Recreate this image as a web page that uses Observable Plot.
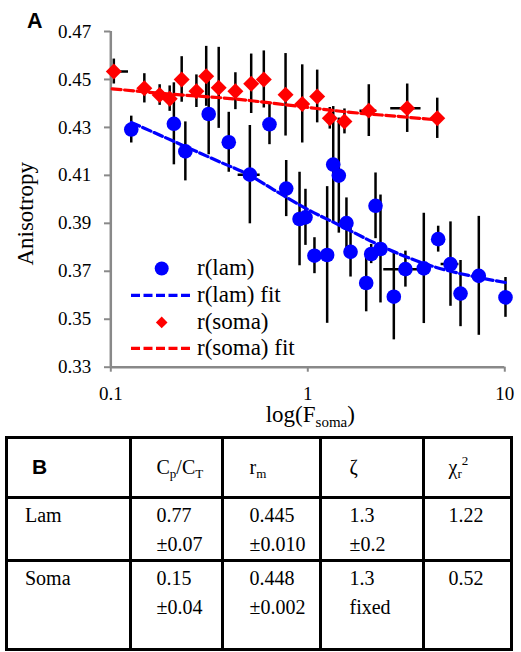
<!DOCTYPE html>
<html><head><meta charset="utf-8">
<script src="https://cdn.jsdelivr.net/npm/d3@7"></script>
<script src="https://cdn.jsdelivr.net/npm/@observablehq/plot@0.6"></script>
<style>
body{margin:0;background:#fff;}
#wrap{position:relative;width:521px;height:652px;overflow:hidden;font-family:"Liberation Serif","Times New Roman",Times,serif;background:#fff;}
#chart{position:absolute;left:0;top:0;}
#chart text{font-family:"Liberation Serif","Times New Roman",Times,serif;}
#panelA{position:absolute;left:27px;top:11px;font:bold 21.5px/1 "Liberation Sans",Arial,sans-serif;}
#legend{position:absolute;left:131px;top:254.8px;font-size:23px;color:#000;font-family:"Liberation Serif","Times New Roman",Times,serif;}
.lrow{display:flex;align-items:center;height:26.9px;}
.lrow svg{width:62px;height:26.9px;flex:none;}
.lrow span{margin-left:4px;line-height:26.9px;white-space:nowrap;}
#tbl{position:absolute;left:5px;top:436px;border-collapse:collapse;table-layout:fixed;width:507.5px;color:#000;}
#tbl td{border:3px solid #000;padding:2px 0 0 0;vertical-align:top;line-height:29px;font-size:20px;font-family:"Liberation Serif","Times New Roman",Times,serif;}
#tbl tr.h td{vertical-align:middle;padding-top:0;}
#tbl sub,#tbl sup{font-size:13px;line-height:0;}
#tbl sub{vertical-align:-4px;}
#tbl sup{vertical-align:9px;}
#tbl .bold{font:bold 21px "Liberation Sans",Arial,sans-serif;}
</style>
</head><body>
<div id="wrap">
  <div id="chart"></div>
  <div id="panelA">A</div>
  <div id="legend"></div>
  <table id="tbl"></table>
</div>
<script>
// ---- data ----
const lamX   = [0.127, 0.209, 0.239, 0.314, 0.397, 0.508, 0.639, 0.777, 0.908, 0.973, 1.081, 1.254, 1.346, 1.437, 1.571, 1.648, 1.979, 2.098, 2.207, 2.339, 2.733, 3.13, 3.88, 4.59, 5.30, 5.96, 7.38, 10.08];
const lamY   = [0.4291, 0.4315, 0.4200, 0.4356, 0.4238, 0.4103, 0.4313, 0.4045, 0.3918, 0.3925, 0.3765, 0.3768, 0.4145, 0.4099, 0.3901, 0.3781, 0.3651, 0.3772, 0.3973, 0.3793, 0.3594, 0.3709, 0.3712, 0.3834, 0.3730, 0.3607, 0.3681, 0.3591];
const lamErr = [0.0056, 0.0171, 0.0123, 0.0170, 0.0125, 0.0205, 0.0085, 0.0117, 0.0195, 0.0117, 0.0075, 0.0285, 0.0242, 0.0240, 0.0105, 0.0105, 0.0120, 0.0040, 0.0137, 0.0225, 0.0180, 0.0075, 0.0230, 0.0054, 0.0176, 0.0138, 0.0248, 0.0083];
const lamXErr= [0, 0, 0, 0, 0, 0.065, 0, 0, 0, 0, 0, 0, 0, 0, 0, 0, 0, 0, 0, 0, 0, 0.7, 0, 0, 0.55, 0, 0, 0];

const somaX   = [0.1036, 0.148, 0.177, 0.199, 0.229, 0.272, 0.305, 0.353, 0.429, 0.516, 0.598, 0.771, 0.937, 1.116, 1.293, 1.535, 2.04, 3.196, 4.54];
const somaY   = [0.4533, 0.4463, 0.4435, 0.4420, 0.4500, 0.4451, 0.4513, 0.4465, 0.4451, 0.4482, 0.4500, 0.4436, 0.4398, 0.4429, 0.4338, 0.4325, 0.4370, 0.4380, 0.4338];
const somaErr = [0.0052, 0.0061, 0.0043, 0.0053, 0.0095, 0.0068, 0.0125, 0.0169, 0.0077, 0.0124, 0.0119, 0.0172, 0.0163, 0.0110, 0.0045, 0.0052, 0.0108, 0.0101, 0.0084];
const somaXErr= [0.0194, 0, 0, 0, 0, 0, 0, 0, 0, 0, 0, 0, 0, 0, 0, 0, 0.2, 0.56, 0];

const lamFitX  = [0.127, 0.244, 0.36, 0.492, 0.672, 0.993, 1.466, 2.163, 3.45, 4.54, 6.70, 10.08];
const lamFitY  = [0.4321, 0.4217, 0.4155, 0.4106, 0.4040, 0.3959, 0.3890, 0.3820, 0.3748, 0.3715, 0.3681, 0.3653];
const somaFitX = [0.1016, 0.193, 0.421, 0.918, 1.648, 2.955, 4.54];
const somaFitY = [0.4461, 0.4440, 0.4419, 0.4387, 0.4363, 0.4345, 0.4331];

const yTicks = [0.33, 0.35, 0.37, 0.39, 0.41, 0.43, 0.45, 0.47];
const xTicks = [0.1, 1, 10];
const xTickLabels = ["0.1", "1", "10"];

const legendLabels = ["r(lam)", "r(lam) fit", "r(soma)", "r(soma) fit"];
const tableHeader = ["B", "C<sub>p</sub>/C<sub>T</sub>", "r<sub>m</sub>", "ζ", "χ<sub>r</sub><sup>2</sup>"];
const tableRows = [
  ["Lam",  "0.77<br>±0.07", "0.445<br>±0.010", "1.3<br>±0.2", "1.22"],
  ["Soma", "0.15<br>±0.04", "0.448<br>±0.002", "1.3<br>fixed", "0.52"]
];

// ---- build rows ----
const lam  = lamX.map((x, i) => ({x, y: lamY[i], e: lamErr[i], xe: lamXErr[i]}));
const soma = somaX.map((x, i) => ({x, y: somaY[i], e: somaErr[i], xe: somaXErr[i]}));
const lamFit  = lamFitX.map((x, i) => ({x, y: lamFitY[i]}));
const somaFit = somaFitX.map((x, i) => ({x, y: somaFitY[i]}));

const BLUE = "#0000ff", RED = "#ff0000", AXIS = "#898989";
const dash = "9,3.5";
const serif = "Liberation Serif";

const errV = (data) => Plot.ruleX(data, {x: "x", y1: d => d.y - d.e, y2: d => d.y + d.e, stroke: "#000", strokeWidth: 2.5});
const errH = (data) => Plot.ruleY(data.filter(d => d.xe > 0), {y: "y", x1: d => d.x - d.xe, x2: d => d.x + d.xe, stroke: "#000", strokeWidth: 2.5, clip: true});

const chart = Plot.plot({
  width: 521,
  height: 432,
  marginLeft: 110.3,
  marginRight: 16.7,
  marginTop: 31,
  marginBottom: 65.3,
  style: {fontFamily: serif, fontSize: "19px", background: "transparent", overflow: "visible", color: "#000"},
  x: {type: "log", domain: [0.1, 10]},
  y: {domain: [0.33, 0.47]},
  marks: [
    Plot.axisY({ticks: yTicks, tickFormat: d3.format(".2f"), tickSize: 6.3, tickPadding: 13.3, stroke: AXIS, strokeWidth: 2, fill: "#000", label: null, fontSize: 19, fontFamily: serif}),
    Plot.axisX({ticks: xTicks, tickFormat: (d) => xTickLabels[xTicks.indexOf(d)], tickSize: 5, tickPadding: 14, stroke: AXIS, strokeWidth: 2, fill: "#000", label: null, fontSize: 19, fontFamily: serif}),
    Plot.ruleX([0.1], {stroke: AXIS, strokeWidth: 2.5}),
    Plot.ruleY([0.33], {stroke: AXIS, strokeWidth: 2.5}),
    errV(lam), errH(lam),
    Plot.dot(lam, {x: "x", y: "y", r: 7.3, fill: BLUE, stroke: "none"}),
    Plot.line(lamFit, {x: "x", y: "y", stroke: BLUE, strokeWidth: 3.2, strokeDasharray: dash, curve: "monotone-x"}),
    errV(soma), errH(soma),
    Plot.dot(soma, {x: "x", y: "y", symbol: "diamond2", r: 7.2, fill: RED, stroke: "none"}),
    Plot.line(somaFit, {x: "x", y: "y", stroke: RED, strokeWidth: 3.2, strokeDasharray: dash, curve: "monotone-x"})
  ]
});
document.getElementById("chart").appendChild(chart);

// axis titles (with subscript) placed from the plot's scales
const xs = chart.scale("x"), ys = chart.scale("y");
const xMid = (xs.range[0] + xs.range[1]) / 2 + 3;
const yBottom = ys.range[0];
const svg = d3.select(chart);
const xt = svg.append("text").attr("x", xMid).attr("y", yBottom + 55)
  .attr("text-anchor", "middle").attr("font-family", serif).attr("font-size", 23).attr("fill", "#000");
xt.append("tspan").text("log(F");
xt.append("tspan").attr("font-size", 15).attr("dy", 5).text("soma");
xt.append("tspan").attr("dy", -5).text(")");
const yMid = (ys.range[0] + ys.range[1]) / 2 + 15;
svg.append("text").attr("transform", `translate(33.3,${yMid}) rotate(-90)`)
  .attr("text-anchor", "middle").attr("font-family", serif).attr("font-size", 23).attr("fill", "#000")
  .text("Anisotropy");

// legend
const legendSymbols = [
  s => s.append("circle").attr("cx", 30.7).attr("cy", 13.45).attr("r", 7).attr("fill", BLUE),
  s => s.append("line").attr("x1", 0).attr("x2", 62).attr("y1", 13.45).attr("y2", 13.45).attr("stroke", BLUE).attr("stroke-width", 3.2).attr("stroke-dasharray", dash),
  s => s.append("path").attr("d", "M30.7,7.6L36.5,13.45L30.7,19.3L24.9,13.45Z").attr("fill", RED),
  s => s.append("line").attr("x1", 0).attr("x2", 62).attr("y1", 13.45).attr("y2", 13.45).attr("stroke", RED).attr("stroke-width", 3.2).attr("stroke-dasharray", dash)
];
const leg = d3.select("#legend");
legendLabels.forEach((lab, i) => {
  const row = leg.append("div").attr("class", "lrow");
  const s = row.append("svg").attr("viewBox", "0 0 62 26.9");
  legendSymbols[i](s);
  row.append("span").text(lab);
});

// table
const colW = [123.5, 92, 98, 103, 88];
const padL = [17, 25, 26, 28, 24];
const rowH = [59.5, 63, 89.5];
const tbl = d3.select("#tbl");
const cg = tbl.append("colgroup");
colW.forEach(w => cg.append("col").style("width", w + "px"));
const hr = tbl.append("tr").attr("class", "h").style("height", rowH[0] + "px");
tableHeader.forEach((h, j) => hr.append("td").style("padding-left", (j === 0 ? 24 : padL[j]) + "px")
  .html(j === 0 ? `<span class="bold">${h}</span>` : h));
tableRows.forEach((r, i) => {
  const tr = tbl.append("tr").style("height", rowH[i + 1] + "px");
  r.forEach((c, j) => tr.append("td").style("padding-left", padL[j] + "px").html(c));
});
</script>
</body></html>
